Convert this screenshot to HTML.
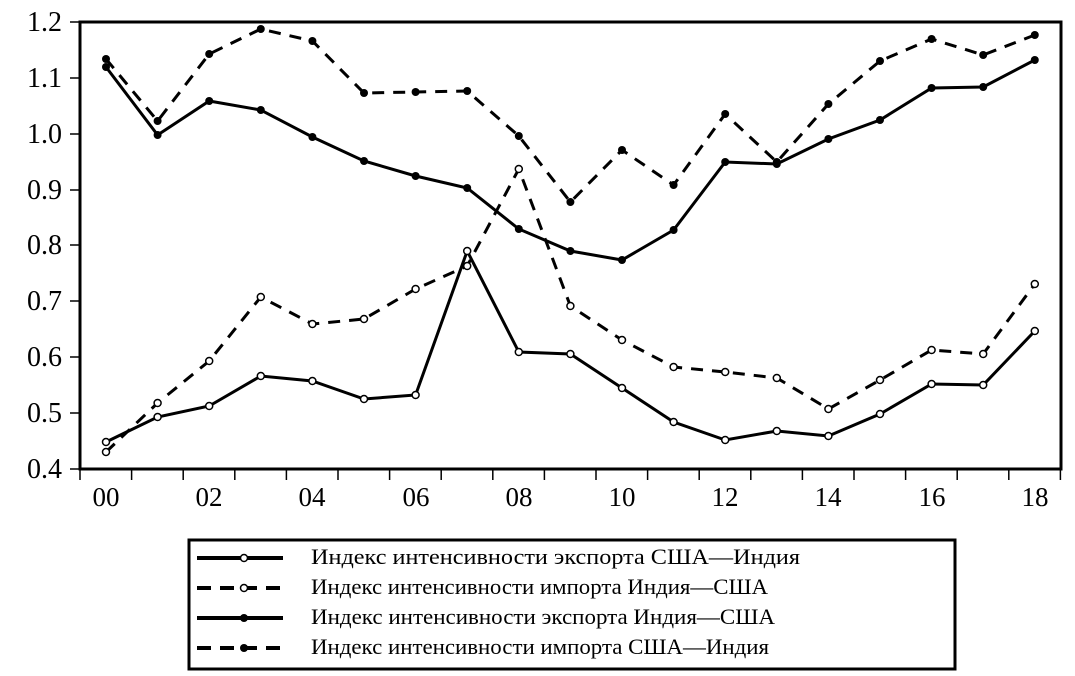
<!DOCTYPE html>
<html><head><meta charset="utf-8"><style>body{margin:0;background:#fff}svg{display:block}</style></head><body>
<svg width="1075" height="676" xmlns="http://www.w3.org/2000/svg" font-family="Liberation Serif, serif">
<rect width="1075" height="676" fill="#fff"/>
<g stroke="#000" stroke-width="3" fill="none"><rect x="80" y="22" width="981" height="447"/></g>
<g stroke="#000" stroke-width="1.5">
<line x1="70" y1="22" x2="80" y2="22"/><line x1="70" y1="78" x2="80" y2="78"/><line x1="70" y1="134" x2="80" y2="134"/><line x1="70" y1="190" x2="80" y2="190"/><line x1="70" y1="245" x2="80" y2="245"/><line x1="70" y1="301" x2="80" y2="301"/><line x1="70" y1="357" x2="80" y2="357"/><line x1="70" y1="413" x2="80" y2="413"/><line x1="70" y1="469" x2="80" y2="469"/>
</g>
<g id="xt" stroke="#000" stroke-width="1.5"></g>
<g font-size="28" text-anchor="end" fill="#000">
<text x="62" y="31">1.2</text><text x="62" y="87">1.1</text><text x="62" y="143">1.0</text><text x="62" y="199">0.9</text><text x="62" y="254">0.8</text><text x="62" y="310">0.7</text><text x="62" y="366">0.6</text><text x="62" y="422">0.5</text><text x="62" y="478">0.4</text>
</g>
<g font-size="27" text-anchor="middle" fill="#000">
<text x="106" y="506">00</text><text x="209" y="506">02</text><text x="312" y="506">04</text><text x="416" y="506">06</text><text x="519" y="506">08</text><text x="622" y="506">10</text><text x="725" y="506">12</text><text x="828" y="506">14</text><text x="932" y="506">16</text><text x="1035" y="506">18</text>
</g>
<g id="series"></g>
<rect x="189" y="540" width="766" height="129" fill="none" stroke="#000" stroke-width="3"/>
<g stroke="#000" stroke-width="4">
<line x1="197" y1="558" x2="283" y2="558"/>
<line x1="197" y1="588" x2="283" y2="588" stroke-dasharray="14,9"/>
<line x1="197" y1="618" x2="283" y2="618"/>
<line x1="197" y1="648" x2="283" y2="648" stroke-dasharray="14,9"/>
</g>
<circle cx="244" cy="558" r="3.5" fill="#fff" stroke="#000" stroke-width="1.5"/>
<circle cx="244" cy="588" r="3.5" fill="#fff" stroke="#000" stroke-width="1.5"/>
<circle cx="244" cy="618" r="4" fill="#000"/>
<circle cx="244" cy="648" r="4" fill="#000"/>
<g font-size="22" fill="#000">
<text x="311" y="564" textLength="489" lengthAdjust="spacingAndGlyphs">Индекс интенсивности экспорта США—Индия</text>
<text x="311" y="594" textLength="457" lengthAdjust="spacingAndGlyphs">Индекс интенсивности импорта Индия—США</text>
<text x="311" y="624" textLength="464" lengthAdjust="spacingAndGlyphs">Индекс интенсивности экспорта Индия—США</text>
<text x="311" y="654" textLength="458" lengthAdjust="spacingAndGlyphs">Индекс интенсивности импорта США—Индия</text>
</g>
<script>
var ns="http://www.w3.org/2000/svg";
var xt=document.getElementById("xt");
for(var i=0;i<=19;i++){var l=document.createElementNS(ns,"line");var x=80+i*51.6;l.setAttribute("x1",x);l.setAttribute("x2",x);l.setAttribute("y1",469);l.setAttribute("y2",480);xt.appendChild(l);}
var S=[
{y:[442,417,406,376,381,399,395,251,352,354,388,422,440,431,436,414,384,385,331],d:null,f:false},
{y:[452,403,361,297,324,319,289,266,169,306,340,367,372,378,409,380,350,354,284],d:"12,9",f:false},
{y:[67,135,101,110,137,161,176,188,229,251,260,230,162,164,139,120,88,87,60],d:null,f:true},
{y:[59,121,54,29,41,93,92,91,136,202,150,185,114,162,104,61,39,55,35],d:"12,9",f:true}];
var g=document.getElementById("series");
S.forEach(function(s){var pts=s.y.map(function(y,i){return (106+i*51.6).toFixed(1)+","+y}).join(" ");
var p=document.createElementNS(ns,"polyline");p.setAttribute("points",pts);p.setAttribute("fill","none");p.setAttribute("stroke","#000");p.setAttribute("stroke-width","3");if(s.d)p.setAttribute("stroke-dasharray",s.d);g.appendChild(p);
s.y.forEach(function(y,i){var c=document.createElementNS(ns,"circle");c.setAttribute("cx",106+i*51.6);c.setAttribute("cy",y);if(s.f){c.setAttribute("r",4);c.setAttribute("fill","#000");}else{c.setAttribute("r",3.5);c.setAttribute("fill","#fff");c.setAttribute("stroke","#000");c.setAttribute("stroke-width","1.5");}g.appendChild(c);});});
</script>
</svg>
</body></html>
